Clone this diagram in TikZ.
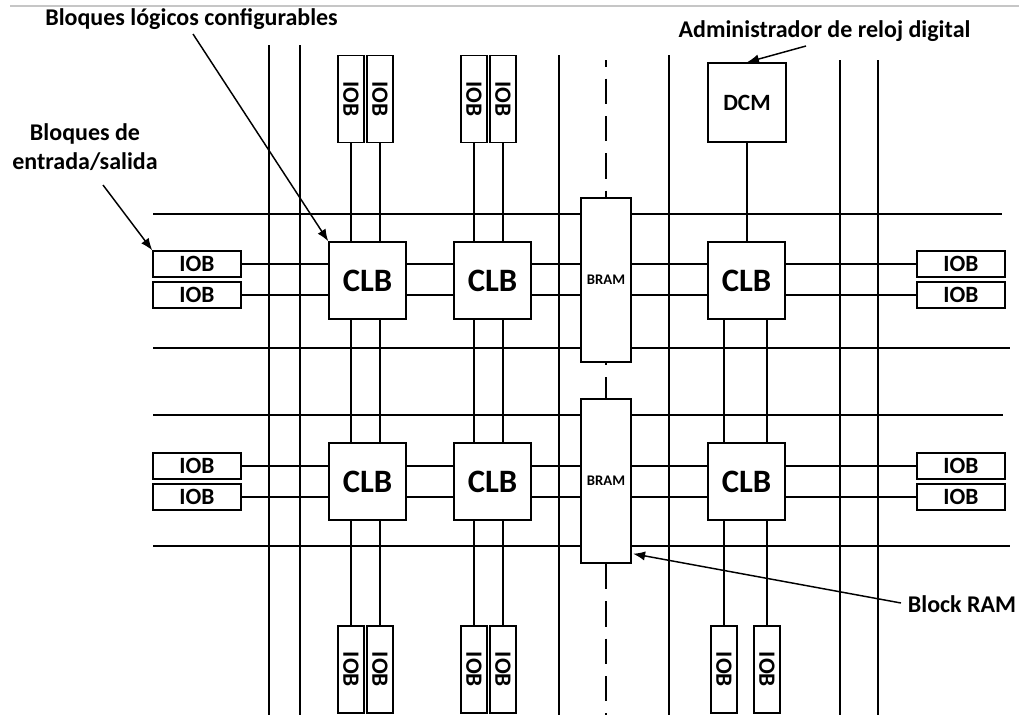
\documentclass[tikz,border=0pt]{standalone}
\usepackage{fontspec}
\setmainfont{Carlito}
\usetikzlibrary{arrows.meta,backgrounds}
\begin{document}
\begin{tikzpicture}[x=0.75pt,y=-0.75pt,
 box/.style={draw, fill=white, line width=1.1pt, inner sep=0pt},
 clb/.style={box, minimum width=77*0.75pt, minimum height=77*0.75pt, font=\bfseries\fontsize{24.5}{24.5}\selectfont},
 iobh/.style={box, minimum width=88*0.75pt, minimum height=26*0.75pt, font=\bfseries\fontsize{17.5}{17.5}\selectfont},
 iobv/.style={box, minimum width=26*0.75pt, minimum height=87*0.75pt, font=\bfseries\fontsize{17.5}{17.5}\selectfont},
 dcmbox/.style={box, minimum width=78*0.75pt, minimum height=79*0.75pt, font=\bfseries\fontsize{17.5}{17.5}\selectfont},
 bram/.style={box, minimum width=50*0.75pt, minimum height=164*0.75pt, font=\bfseries\fontsize{11}{11}\selectfont},
 gridline/.style={line width=1.15pt},
 wire/.style={line width=1.15pt},
 hwire/.style={line width=1.6pt},
 lbl/.style={font=\bfseries\fontsize{18}{22}\selectfont, align=center, inner sep=0pt},
 pointer/.style={line width=1.1pt, -{Latex[length=9pt,width=7pt]}}
]
\useasboundingbox (0,0) rectangle (1019,715);
\draw[gray!45, line width=0.8pt] (10,6) -- (1019,6);

% CLBs
\node[clb] (c1) at (367.5,280.5) {CLB};
\node[clb] (c2) at (492.5,280.5) {CLB};
\node[clb] (c3) at (746.5,280.5) {CLB};
\node[clb] (c4) at (367.5,481.5) {CLB};
\node[clb] (c5) at (492.5,481.5) {CLB};
\node[clb] (c6) at (746.5,481.5) {CLB};
% DCM
\node[dcmbox] (dcm) at (747,102.5) {DCM};
% BRAM
\node[bram] (b1) at (606,280) {BRAM};
\node[bram] (b2) at (606,481) {BRAM};
% side IOBs
\node[iobh] (l1) at (197,264) {IOB};
\node[iobh] (l2) at (197,295) {IOB};
\node[iobh] (l3) at (197,466) {IOB};
\node[iobh] (l4) at (197,497) {IOB};
\node[iobh] (r1) at (961,264) {IOB};
\node[iobh] (r2) at (961,295) {IOB};
\node[iobh] (r3) at (961,466) {IOB};
\node[iobh] (r4) at (961,497) {IOB};
% top IOBs
\node[iobv] (t1) at (351,99) {\rotatebox{-90}{IOB}};
\node[iobv] (t2) at (380,99) {\rotatebox{-90}{IOB}};
\node[iobv] (t3) at (474,99) {\rotatebox{-90}{IOB}};
\node[iobv] (t4) at (503,99) {\rotatebox{-90}{IOB}};
% bottom IOBs
\node[iobv] (u1) at (351,669.5) {\rotatebox{-90}{IOB}};
\node[iobv] (u2) at (380,669.5) {\rotatebox{-90}{IOB}};
\node[iobv] (u3) at (474,669.5) {\rotatebox{-90}{IOB}};
\node[iobv] (u4) at (503,669.5) {\rotatebox{-90}{IOB}};
\node[iobv] (u5) at (724,669.5) {\rotatebox{-90}{IOB}};
\node[iobv] (u6) at (767,669.5) {\rotatebox{-90}{IOB}};

\begin{scope}[on background layer]
 \foreach \x/\y in {269/45, 300/45, 559/55, 669/55, 840/60, 878/60}
   \draw[gridline] (\x,\y) -- (\x,715);
 \draw[gridline, dash pattern=on 19pt off 9pt, dash phase=14pt] (606,60) -- (606,715);
 \draw[gridline] (153,214) -- (1002,214);
 \draw[gridline] (153,348) -- (1010,348);
 \draw[gridline] (153,415) -- (1003,415);
 \draw[gridline] (153,546) -- (1010,546);
 \draw[hwire] (l1.east) -- (r1.west);
 \draw[hwire] (l2.east) -- (r2.west);
 \draw[hwire] (l3.east) -- (r3.west);
 \draw[hwire] (l4.east) -- (r4.west);
 \draw[wire] (t1.south) -- (u1.north);
 \draw[wire] (t2.south) -- (u2.north);
 \draw[wire] (t3.south) -- (u3.north);
 \draw[wire] (t4.south) -- (u4.north);
 \draw[wire] (dcm.south) -- (dcm.south |- c3.north);
 \draw[wire] (u5.north |- c3.south) -- (u5.north);
 \draw[wire] (u6.north |- c3.south) -- (u6.north);
\end{scope}

% labels
\node[lbl] (tCLB) at (191.5,19) {Bloques lógicos configurables};
\node[lbl] (tDCM) at (824.5,31) {Administrador de reloj digital};
\node[lbl] (tIO) at (85,147) {Bloques de\\entrada/salida};
\node[lbl] (tRAM) at (962,604) {Block RAM};

\coordinate (aCLB) at (193,34);
\coordinate (aIO) at (103,185);
\coordinate (aDCM) at (806,46);
\coordinate (aRAM) at (901,603);
\draw[pointer] (aCLB) -- (c1.north west);
\draw[pointer] (aIO) -- (l1.north west);
\draw[pointer] (aDCM) -- (dcm.north);
\draw[pointer] (aRAM) -- ([xshift=1pt,yshift=7.5pt]b2.south east);
\end{tikzpicture}
\end{document}
